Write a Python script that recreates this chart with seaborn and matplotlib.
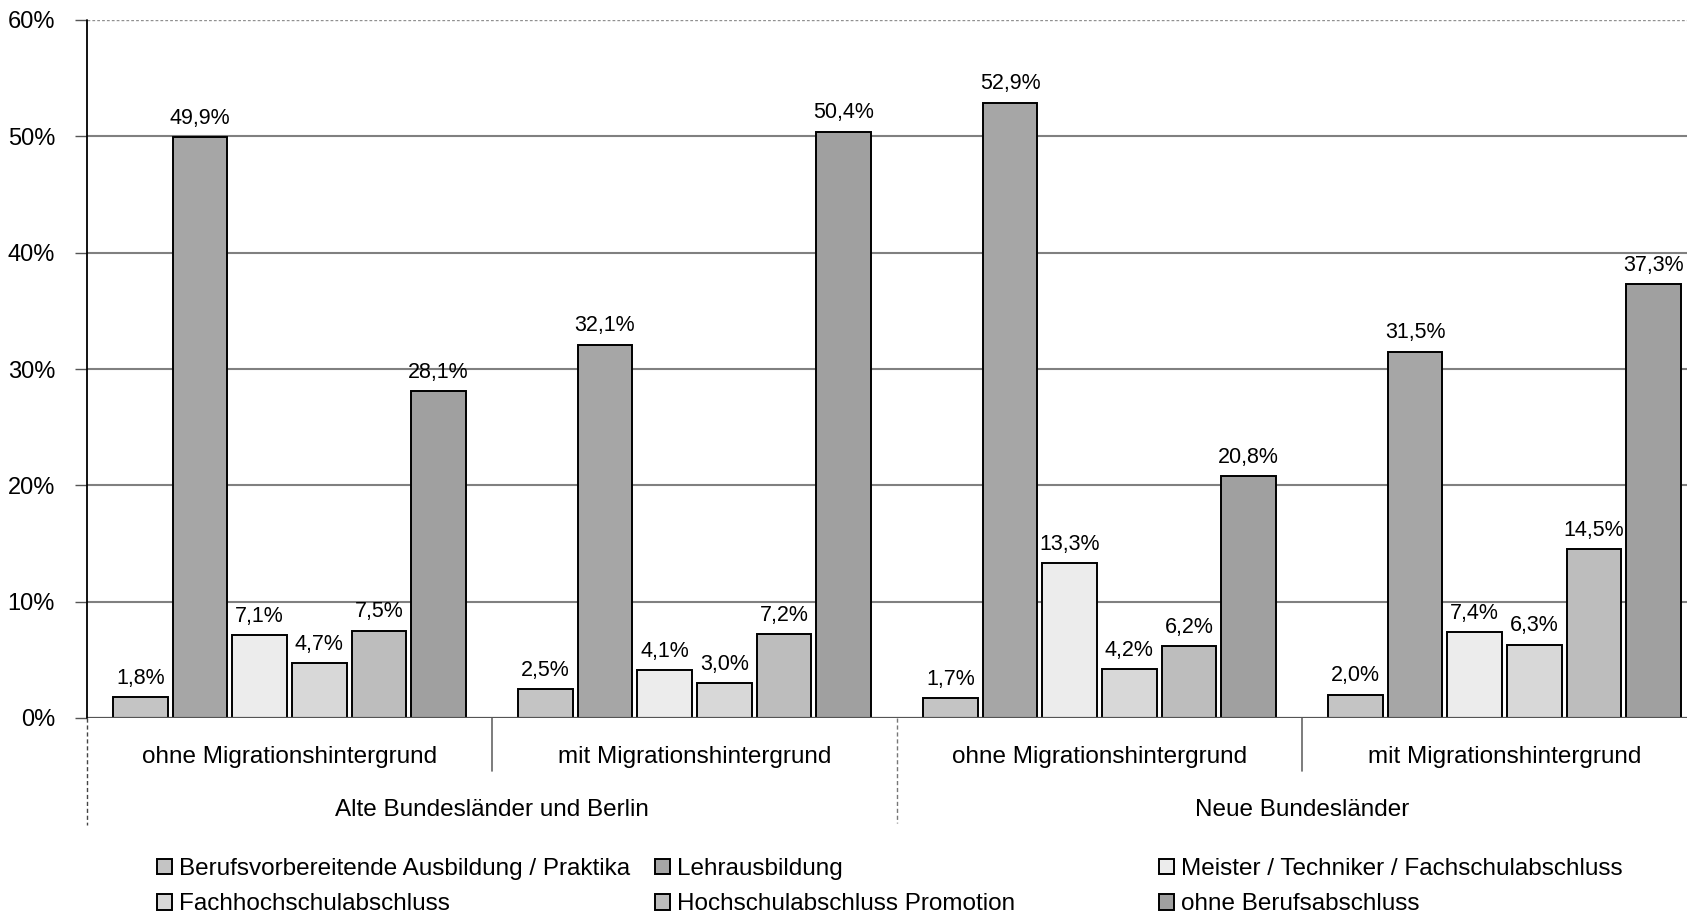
import matplotlib
matplotlib.use("Agg")
import matplotlib.pyplot as plt
import matplotlib.transforms as mtransforms
import seaborn as sns
import pandas as pd

# ---- data ----
gruppen = ["Alte_ohne", "Alte_mit", "Neue_ohne", "Neue_mit"]
gruppen_labels = ["ohne Migrationshintergrund", "mit Migrationshintergrund",
                  "ohne Migrationshintergrund", "mit Migrationshintergrund"]
regionen = ["Alte Bundesländer und Berlin", "Neue Bundesländer"]
abschluesse = ["Berufsvorbereitende Ausbildung / Praktika",
               "Lehrausbildung",
               "Meister / Techniker / Fachschulabschluss",
               "Fachhochschulabschluss",
               "Hochschulabschluss Promotion",
               "ohne Berufsabschluss"]
berufsvorbereitend = [1.8, 2.5, 1.7, 2.0]
lehrausbildung = [49.9, 32.1, 52.9, 31.5]
meister = [7.1, 4.1, 13.3, 7.4]
fachhochschule = [4.7, 3.0, 4.2, 6.3]
hochschule = [7.5, 7.2, 6.2, 14.5]
ohne_abschluss = [28.1, 50.4, 20.8, 37.3]
y_ticks = [0, 10, 20, 30, 40, 50, 60]
y_ticklabels = ["0%", "10%", "20%", "30%", "40%", "50%", "60%"]

farben = ["#c4c4c4", "#a6a6a6", "#ececec", "#d8d8d8", "#bdbdbd", "#a0a0a0"]

serien = [berufsvorbereitend, lehrausbildung, meister, fachhochschule, hochschule, ohne_abschluss]
rows = []
for name, werte in zip(abschluesse, serien):
    for g, v in zip(gruppen, werte):
        rows.append({"gruppe": g, "abschluss": name, "wert": v})
df = pd.DataFrame(rows)

sns.set_style("white")
plt.rcParams["font.family"] = ["Liberation Sans", "DejaVu Sans"]
plt.rcParams["text.color"] = "black"
plt.rcParams["axes.labelcolor"] = "black"
plt.rcParams["xtick.color"] = "black"
plt.rcParams["ytick.color"] = "black"

fig = plt.figure(figsize=(16.87, 9.18), dpi=100)
ax = fig.add_axes([87 / 1687, (918 - 718) / 918, 1620 / 1687, 698 / 918])

sns.barplot(data=df, x="gruppe", y="wert", hue="abschluss", order=gruppen,
            hue_order=abschluesse, palette=farben, saturation=1,
            width=0.884, gap=0.08, edgecolor="black", linewidth=1.4,
            errorbar=None, ax=ax, zorder=3)

handles, labels = ax.get_legend_handles_labels()
if ax.get_legend() is not None:
    ax.get_legend().remove()

# value labels
for cont in ax.containers:
    vals = [b.get_height() for b in cont]
    ax.bar_label(cont, labels=[f"{v:.1f}%".replace(".", ",") for v in vals],
                 padding=6, fontsize=15.5, color="black", zorder=4)

ax.set_xlim(-0.5, 3.5)
ax.set_ylim(0, 60)
ax.set_yticks(y_ticks)
ax.set_yticklabels(y_ticklabels, fontsize=17, color="black")
ax.set_xticks([])
ax.set_xlabel("")
ax.set_ylabel("")
ax.tick_params(axis="y", direction="out", length=9, width=1, color="#555555", pad=14,
               left=True, labelcolor="black")

for s in ax.spines.values():
    s.set_visible(False)

# gridlines
for t in y_ticks[1:-1]:
    ax.axhline(t, color="#808080", lw=1.5, zorder=1)
ax.axhline(60, color="#909090", lw=1.0, ls=(0, (2, 1.5)), zorder=1)
ax.axhline(0, color="#555555", lw=1.6, zorder=5)

trans = mtransforms.blended_transform_factory(ax.transData, ax.transAxes)
# left axis line
ax.plot([-0.5, -0.5], [0, 1], transform=trans, color="black", lw=1.3, clip_on=False, zorder=6)
ax.plot([-0.5, -0.5], [0, -0.153], transform=trans, color="#444444", lw=1.0,
        ls=(0, (3, 2)), clip_on=False, zorder=6)
# separators
for xs in [0.5, 2.5]:
    ax.plot([xs, xs], [0, -0.076], transform=trans, color="#666666", lw=1.2, clip_on=False)
ax.plot([1.5, 1.5], [0, -0.150], transform=trans, color="#777777", lw=1.0,
        ls=(0, (3, 2)), clip_on=False)

# group labels
for i, lab in enumerate(gruppen_labels):
    ax.text(i, -0.056, lab, transform=trans, ha="center", va="center", fontsize=17.5,
            color="black")
for i, lab in enumerate(regionen):
    ax.text(0.5 + 2 * i, -0.132, lab, transform=trans, ha="center", va="center",
            fontsize=17.5, color="black")

# legend in three columns
col_x = [157, 655, 1159]
for c, xpix in enumerate(col_x):
    hs = [handles[c], handles[c + 3]]
    ls = [labels[c], labels[c + 3]]
    leg = fig.legend(hs, ls, loc="upper left", bbox_to_anchor=(xpix / 1687, (918 - 858) / 918),
                     frameon=False, fontsize=17.5, borderpad=0, borderaxespad=0,
                     handlelength=0.62, handleheight=0.62, handletextpad=0.3,
                     labelspacing=0.55, labelcolor="black")

fig.savefig("out.png", dpi=100)
